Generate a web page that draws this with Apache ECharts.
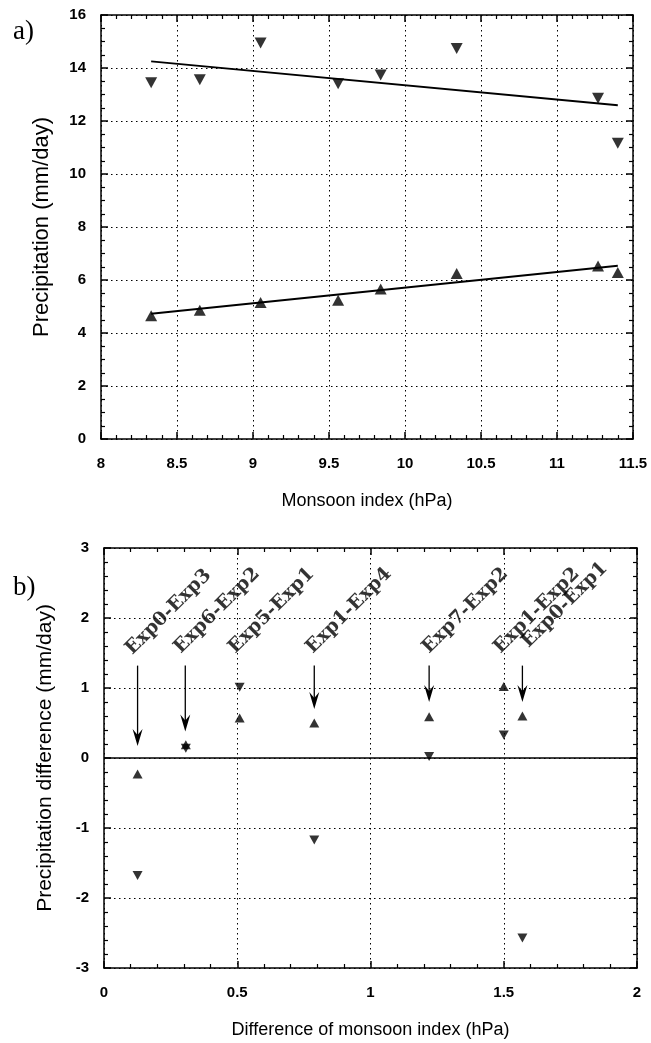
<!DOCTYPE html>
<html><head><meta charset="utf-8">
<script src="https://cdn.jsdelivr.net/npm/echarts@6/dist/echarts.min.js"></script>
<style>html,body{margin:0;padding:0;background:#fff}#c{width:651px;height:1043px}</style>
</head><body><div id="c"></div>
<script>
// ---- Panel a data ----
const aIndex   = [8.33, 8.65, 9.05, 9.56, 9.84, 10.34, 11.27, 11.40];
const aDown    = [13.44, 13.56, 14.94, 13.41, 13.74, 14.74, 12.86, 11.16];
const aUp      = [4.65, 4.86, 5.15, 5.24, 5.66, 6.25, 6.53, 6.28];
const aFitX    = [8.33, 11.40];
const aFitDown = [14.25, 12.59];
const aFitUp   = [4.73, 6.54];

// ---- Panel b data ----
const bDiff    = [0.126, 0.307, 0.509, 0.789, 1.22, 1.50, 1.57];
const bUp      = [-0.23, 0.19, 0.57, 0.50, 0.59, 1.02, 0.60];
const bDown    = [-1.68, 0.14, 1.01, -1.17, 0.02, 0.33, -2.57];
const bLabels  = ['Exp0-Exp3','Exp6-Exp2','Exp5-Exp1','Exp1-Exp4','Exp7-Exp2','Exp1-Exp2','Exp0-Exp1'];
const bLabelX  = [0.118, 0.300, 0.505, 0.795, 1.232, 1.500, 1.605];
const bLabelY  = [1.42, 1.44, 1.44, 1.44, 1.44, 1.44, 1.52];
const bArrowX   = [0.126, 0.305, 0.789, 1.22, 1.57];
const bArrowTop = [1.32, 1.32, 1.32, 1.32, 1.32];
const bArrowTip = [0.17, 0.38, 0.70, 0.80, 0.80];

const SANS = 'Liberation Sans, Arial, sans-serif';
const SERIF = 'Liberation Serif, Times New Roman, serif';
const LABSERIF = 'DejaVu Serif, Liberation Serif, serif';
const dotted = {color:'#000', width:1, type:[1.5,3.5]};

function xAx(grid, min, max, interval, pos, showLabel, name, split){
  return {
    type:'value', gridIndex:grid, min:min, max:max, interval:interval, position:pos,
    axisLine:{show:true, onZero:false, lineStyle:{color:'#000', width:1.5}},
    axisTick:{show:true, inside:true, length:7, lineStyle:{color:'#000', width:1.5}},
    minorTick:{show:true, splitNumber:5, length:4, lineStyle:{color:'#000', width:1.2}},
    axisLabel:{show:showLabel, color:'#000', fontFamily:SANS, fontWeight:'bold', fontSize:15, margin:17},
    splitLine:{show:split, lineStyle:dotted},
    name: name || '', nameLocation:'middle', nameGap:53,
    nameTextStyle:{color:'#000', fontFamily:SANS, fontSize:18}
  };
}
function yAx(grid, min, max, interval, minorSplit, pos, showLabel, name, split, nameSize){
  return {
    type:'value', gridIndex:grid, min:min, max:max, interval:interval, position:pos,
    axisLine:{show:true, onZero:false, lineStyle:{color:'#000', width:1.5}},
    axisTick:{show:true, inside:true, length:7, lineStyle:{color:'#000', width:1.5}},
    minorTick:{show:true, splitNumber:minorSplit, length:4, lineStyle:{color:'#000', width:1.2}},
    axisLabel:{show:showLabel, color:'#000', fontFamily:SANS, fontWeight:'bold', fontSize:15, margin:15},
    splitLine:{show:split, lineStyle:dotted},
    name: name || '', nameLocation:'middle', nameGap:48,
    nameTextStyle:{color:'#000', fontFamily:SANS, fontSize:nameSize || 22}
  };
}

const chart = echarts.init(document.getElementById('c'), null, {renderer:'canvas'});
const option = {
  animation:false,
  backgroundColor:'#fff',
  title:[
    {text:'a)', left:8, top:13, textStyle:{fontFamily:SERIF, fontSize:27, fontWeight:'normal', color:'#000'}},
    {text:'b)', left:8, top:569, textStyle:{fontFamily:SERIF, fontSize:27, fontWeight:'normal', color:'#000'}}
  ],
  grid:[
    {left:101, top:15, width:532, height:424},
    {left:104, top:548, width:533, height:420}
  ],
  xAxis:[
    xAx(0, 8, 11.5, 0.5, 'bottom', true, 'Monsoon index (hPa)', true),
    xAx(0, 8, 11.5, 0.5, 'top', false, '', false),
    xAx(1, 0, 2, 0.5, 'bottom', true, 'Difference of monsoon index (hPa)', true),
    xAx(1, 0, 2, 0.5, 'top', false, '', false)
  ],
  yAxis:[
    yAx(0, 0, 16, 2, 4, 'left', true, 'Precipitation (mm/day)', true, 22),
    yAx(0, 0, 16, 2, 4, 'right', false, '', false),
    yAx(1, -3, 3, 1, 5, 'left', true, 'Precipitation difference (mm/day)', true, 21),
    yAx(1, -3, 3, 1, 5, 'right', false, '', false)
  ],
  series:[
    {type:'line', xAxisIndex:0, yAxisIndex:0, data:aFitX.map((x,i)=>[x,aFitDown[i]]), symbol:'none', lineStyle:{color:'#000', width:2}},
    {type:'line', xAxisIndex:0, yAxisIndex:0, data:aFitX.map((x,i)=>[x,aFitUp[i]]), symbol:'none', lineStyle:{color:'#000', width:2}},
    {type:'scatter', xAxisIndex:0, yAxisIndex:0, data:aIndex.map((x,i)=>[x,aDown[i]]), symbol:'triangle', symbolRotate:180, symbolSize:[12,11], itemStyle:{color:'#000'}},
    {type:'scatter', xAxisIndex:0, yAxisIndex:0, data:aIndex.map((x,i)=>[x,aUp[i]]), symbol:'triangle', symbolSize:[12,11], itemStyle:{color:'#000'}},
    {type:'scatter', xAxisIndex:2, yAxisIndex:2, data:bDiff.map((x,i)=>[x,bUp[i]]), symbol:'triangle', symbolSize:[10,9], itemStyle:{color:'#000'},
      markLine:{silent:true, symbol:['none','none'], label:{show:false}, lineStyle:{color:'#000', width:1.5, type:'solid'}, data:[{yAxis:0}]}},
    {type:'scatter', xAxisIndex:2, yAxisIndex:2, data:bDiff.map((x,i)=>[x,bDown[i]]), symbol:'triangle', symbolRotate:180, symbolSize:[10,9], itemStyle:{color:'#000'}},
    {type:'custom', xAxisIndex:2, yAxisIndex:2, data:bArrowX.map((x,i)=>[x,bArrowTop[i],bArrowTip[i]]),
      renderItem:function(params, api){
        const p1 = api.coord([api.value(0), api.value(1)]);
        const p2 = api.coord([api.value(0), api.value(2)]);
        return {type:'group', children:[
          {type:'line', shape:{x1:p1[0], y1:p1[1], x2:p2[0], y2:p2[1]-5}, style:{stroke:'#000', lineWidth:1.3}},
          {type:'polygon', shape:{points:[[p2[0],p2[1]],[p2[0]-5,p2[1]-17],[p2[0],p2[1]-11],[p2[0]+5,p2[1]-17]]}, style:{fill:'#000'}}
        ]};
      }},
    {type:'scatter', xAxisIndex:2, yAxisIndex:2, data:bLabelX.map((x,i)=>[x,bLabelY[i],bLabels[i]]), symbolSize:0,
      label:{show:true, formatter:p=>p.data[2], position:[0,0], align:'left', verticalAlign:'bottom', rotate:45,
        fontFamily:LABSERIF, fontSize:19, fontWeight:'bold', color:'#000'}}
  ]
};
chart.setOption(option);
</script>
</body></html>
